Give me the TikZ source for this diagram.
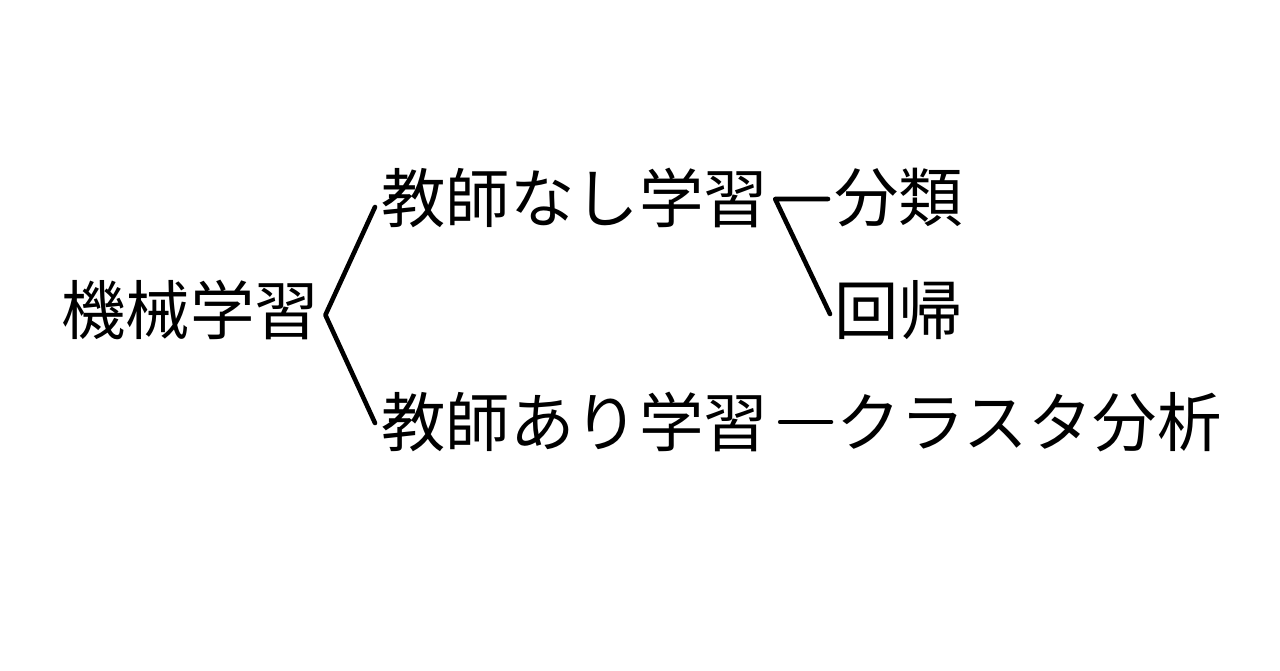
\documentclass[tikz,border=0pt]{standalone}
\usepackage{fontspec}
\newfontfamily\jpfont{Noto Sans CJK JP}
\begin{document}
\begin{tikzpicture}[x=0.5pt,y=-0.5pt,
	term/.style={font=\jpfont\fontsize{32.2pt}{38pt}\selectfont, inner sep=0pt, anchor=west},
	branch/.style={line width=2.3pt, line cap=round, line join=round}]
	\useasboundingbox (0,0) rectangle (1280,670);
	\node[term] (kikai) at (61,310) {機械学習};
	\node[term] (nashi) at (381,198) {教師なし学習};
	\node[term] (ari) at (381,422) {教師あり学習};
	\node[term] (bunrui) at (834,198) {分類};
	\node[term] (kaiki) at (834,310) {回帰};
	\node[term] (cluster) at (836,422) {クラスタ分析};
	\coordinate (kikai-fork) at ([shift={(6,5)}]kikai.east);
	\coordinate (nashi-fork) at ([shift={(7,1)}]nashi.east);
	\draw[branch] ([shift={(-6,9)}]nashi.west) -- (kikai-fork) -- ([shift={(-6,1)}]ari.west);
	\draw[branch] ([shift={(-6,1)}]bunrui.west) -- (nashi-fork) -- ([shift={(-4,4)}]kaiki.west);
	\draw[branch] ([shift={(12,0)}]ari.east) -- ([shift={(-5,0)}]cluster.west);
\end{tikzpicture}
\end{document}
